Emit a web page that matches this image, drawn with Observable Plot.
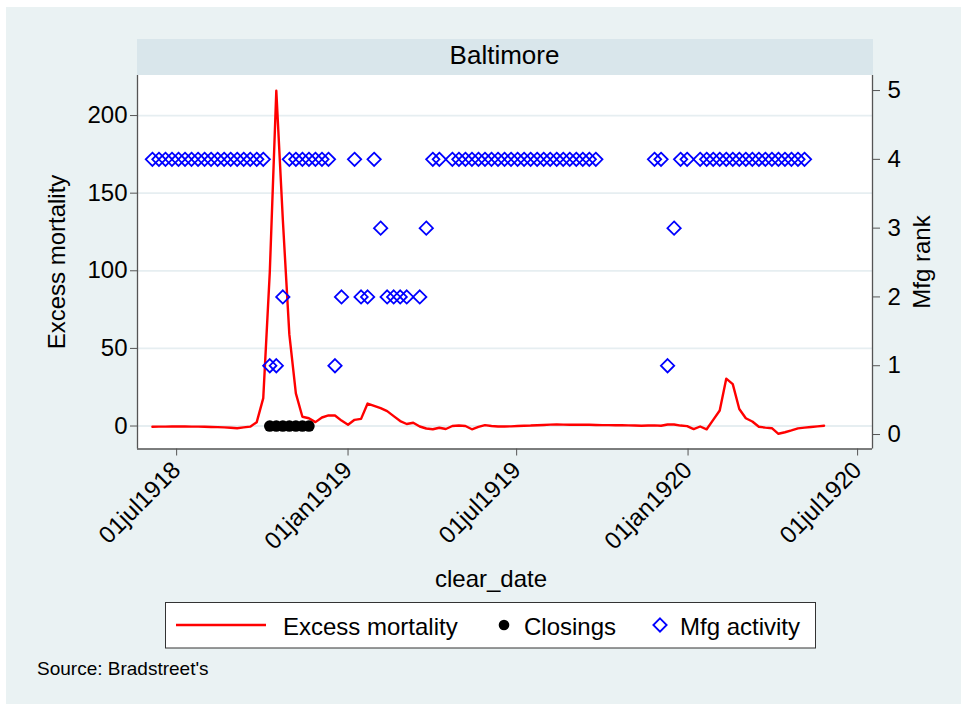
<!DOCTYPE html>
<html><head><meta charset="utf-8">
<script src="https://cdn.jsdelivr.net/npm/d3@7"></script>
<script src="https://cdn.jsdelivr.net/npm/@observablehq/plot@0.6"></script>
<style>
html,body{margin:0;padding:0;background:#fff;}
#chart svg{display:block;}
</style></head><body><div id="chart"></div>
<script>
// ---- data ----
const weeks = [
 "1918-06-05","1918-06-12","1918-06-19","1918-06-26","1918-07-03","1918-07-10","1918-07-17","1918-07-24","1918-07-31","1918-08-07",
 "1918-08-14","1918-08-21","1918-08-28","1918-09-04","1918-09-11","1918-09-18","1918-09-25","1918-10-02","1918-10-09","1918-10-16",
 "1918-10-23","1918-10-30","1918-11-06","1918-11-13","1918-11-20","1918-11-27","1918-12-04","1918-12-11","1918-12-18","1918-12-25",
 "1919-01-01","1919-01-08","1919-01-15","1919-01-22","1919-01-29","1919-02-05","1919-02-12","1919-02-19","1919-02-26","1919-03-05",
 "1919-03-12","1919-03-19","1919-03-26","1919-04-02","1919-04-09","1919-04-16","1919-04-23","1919-04-30","1919-05-07","1919-05-14",
 "1919-05-21","1919-05-28","1919-06-04","1919-06-11","1919-06-18","1919-06-25","1919-07-02","1919-07-09","1919-07-16","1919-07-23",
 "1919-07-30","1919-08-06","1919-08-13","1919-08-20","1919-08-27","1919-09-03","1919-09-10","1919-09-17","1919-09-24","1919-10-01",
 "1919-10-08","1919-10-15","1919-10-22","1919-10-29","1919-11-05","1919-11-12","1919-11-19","1919-11-26","1919-12-03","1919-12-10",
 "1919-12-17","1919-12-24","1919-12-31","1920-01-07","1920-01-14","1920-01-21","1920-01-28","1920-02-04","1920-02-11","1920-02-18",
 "1920-02-25","1920-03-03","1920-03-10","1920-03-17","1920-03-24","1920-03-31","1920-04-07","1920-04-14","1920-04-21","1920-04-28",
 "1920-05-05","1920-05-12","1920-05-19","1920-05-26"
];
const excessMortality = [
 -0.5,-0.4,-0.4,-0.3,-0.3,-0.3,-0.4,-0.4,-0.5,-0.6,-0.7,-0.9,-1.1,-1.4,-0.9,-0.4,
 2.5,18,99,216,133,59,21,6,
 5,2.5,5.5,6.8,6.8,3.5,0.8,4,4.6,14.5,13,11.5,
 9.6,6.4,3.2,1.3,2.1,-0.3,-1.6,-2.1,-1.1,-1.9,
 0,0.3,0,-2.1,-0.6,0.6,0,-0.3,-0.3,-0.2,
 0,0.2,0.3,0.5,0.7,0.9,1.0,0.9,0.8,0.8,
 0.9,0.8,0.7,0.6,0.6,0.5,0.5,0.4,0.3,0.2,
 0.3,0.4,0.2,1,1,0.3,-0.1,-2,-0.3,-2.1,
 4,10,30.5,27,11,5,2.9,-0.5,-1,-1.4,
 -5,-4,-2.8,-1.5,-1,-0.6,-0.2,0.2
];
const mfgRank = [
 4,4,4,4,4,4,4,4,4,4,4,4,4,4,4,4,4,4,
 1,1,2,
 4,4,4,4,4,4,4,
 1,2,null,4,2,2,4,3,2,2,2,2,null,2,3,4,4,null,
 4,4,4,4,4,4,4,4,4,4,4,4,4,4,4,4,4,4,4,4,4,4,4,
 null,null,null,null,null,null,null,null,
 4,4,1,3,4,4,null,
 4,4,4,4,4,4,4,4,4,4,4,4,4,4,4,4,4,
 null,null,null
];
const closingDates = ["1918-10-09","1918-10-16","1918-10-23","1918-10-30","1918-11-06","1918-11-13","1918-11-20"];
const mortalityTicks = [0, 50, 100, 150, 200];
const rankTicks = [0, 1, 2, 3, 4, 5];
const dateTicks = ["1918-07-01","1919-01-01","1919-07-01","1920-01-01","1920-07-01"];
const dateTickLabels = ["01jul1918","01jan1919","01jul1919","01jan1920","01jul1920"];
const panelTitle = "Baltimore";
const legendLabels = ["Excess mortality", "Closings", "Mfg activity"];
const sourceNote = "Source: Bradstreet's";

// ---- build ----
const utc = s => new Date(s + "T00:00:00Z");
const mort = weeks.map((w, i) => ({date: utc(w), value: excessMortality[i]}));
const mfg = weeks.map((w, i) => ({date: utc(w), rank: mfgRank[i]})).filter(d => d.rank != null);
const closings = closingDates.map(d => ({date: utc(d), value: 0}));
const xTicks = dateTicks.map(utc);
const xLabelMap = new Map(xTicks.map((t, i) => [+t, dateTickLabels[i]]));

const FONT = "'Liberation Sans', Arial, Helvetica, sans-serif";
const W = 961, H = 704;
const M = {top: 75, right: 89, bottom: 255.5, left: 137};
const xDomain = [utc("1918-05-20"), utc("1920-07-17")];
const yDomain = [-14.8, 225.8];
// right axis (rank) expressed in left-axis units
const rankToY = r => -5.475 + 44.316 * r;
const yToRank = y => Math.round((y + 5.475) / 44.316);
const AX = "#555";

const chart = Plot.plot({
  width: W, height: H,
  marginTop: M.top, marginRight: M.right, marginBottom: M.bottom, marginLeft: M.left,
  style: {fontFamily: FONT, fontSize: "24px", color: "#000", background: "transparent", overflow: "visible"},
  x: {type: "utc", domain: xDomain},
  y: {domain: yDomain},
  marks: [
    Plot.gridY(mortalityTicks, {stroke: "#e6eef1", strokeOpacity: 1, strokeWidth: 1.8}),
    Plot.line(mort, {x: "date", y: "value", stroke: "#ff0000", strokeWidth: 2.4}),
    Plot.dot(closings, {x: "date", y: "value", r: 5.8, fill: "#000"}),
    Plot.dot(mfg, {x: "date", y: d => rankToY(d.rank), symbol: "diamond2", r: 6, stroke: "#0000ff", strokeWidth: 1.8, fill: "none"}),
    Plot.ruleX(xDomain, {stroke: AX, strokeWidth: 1.3}),
    Plot.ruleY([yDomain[0]], {stroke: AX, strokeWidth: 1.3}),
    Plot.axisY(mortalityTicks, {anchor: "left", tickSize: 7, tickPadding: 3, label: null, stroke: AX, fontSize: 24}),
    Plot.axisY(rankTicks.map(rankToY), {anchor: "right", tickSize: 7, tickPadding: 8, label: null, stroke: AX, fontSize: 24, tickFormat: d => String(yToRank(d))}),
    Plot.axisX(xTicks, {anchor: "bottom", tickSize: 7, tickPadding: 10, tickRotate: -45, label: null, stroke: AX, fontSize: 24, tickFormat: d => xLabelMap.get(+d)})
  ]
});

const svg = d3.select(chart);
const back = svg.insert("g", ":first-child");
back.append("rect").attr("x", 6).attr("y", 7).attr("width", W - 6).attr("height", H - 7).attr("fill", "#eaf2f3");
back.append("rect").attr("x", M.left).attr("y", M.top).attr("width", W - M.left - M.right).attr("height", H - M.top - M.bottom).attr("fill", "#fff");
back.append("rect").attr("x", M.left).attr("y", 39).attr("width", W - M.left - M.right + 1).attr("height", M.top - 39).attr("fill", "#d9e6eb");

const fg = svg.append("g").attr("font-family", FONT).attr("fill", "#000").attr("text-anchor", "middle");
fg.append("text").attr("x", (M.left + W - M.right) / 2).attr("y", 64).attr("font-size", 26).text(panelTitle);
fg.append("text").attr("transform", "translate(65,262) rotate(-90)").attr("font-size", 24).text("Excess mortality");
fg.append("text").attr("transform", "translate(930,262) rotate(-90)").attr("font-size", 24).text("Mfg rank");
fg.append("text").attr("x", 491).attr("y", 587).attr("font-size", 24).text("clear_date");

// legend
const lg = svg.append("g").attr("font-family", FONT).attr("font-size", 24).attr("fill", "#000").attr("text-anchor", "start");
lg.append("rect").attr("x", 165.5).attr("y", 602.5).attr("width", 650).attr("height", 45.5).attr("fill", "#fff").attr("stroke", "#333").attr("stroke-width", 1);
lg.append("line").attr("x1", 176).attr("x2", 266).attr("y1", 625).attr("y2", 625).attr("stroke", "#ff0000").attr("stroke-width", 2.6);
lg.append("text").attr("x", 283).attr("y", 634.5).attr("text-anchor", "start").text(legendLabels[0]);
lg.append("circle").attr("cx", 504).attr("cy", 625).attr("r", 5.3).attr("fill", "#000");
lg.append("text").attr("x", 524).attr("y", 634.5).attr("text-anchor", "start").text(legendLabels[1]);
lg.append("path").attr("transform", "translate(660,625)").attr("d", d3.symbol(d3.symbolDiamond2, Math.PI * 36)()).attr("fill", "none").attr("stroke", "#0000ff").attr("stroke-width", 1.8);
lg.append("text").attr("x", 680).attr("y", 634.5).attr("text-anchor", "start").text(legendLabels[2]);

svg.append("text").attr("x", 37).attr("y", 675).attr("text-anchor", "start").attr("font-family", FONT).attr("font-size", 19).attr("fill", "#000").text(sourceNote);

document.getElementById("chart").appendChild(chart);
</script></body></html>
